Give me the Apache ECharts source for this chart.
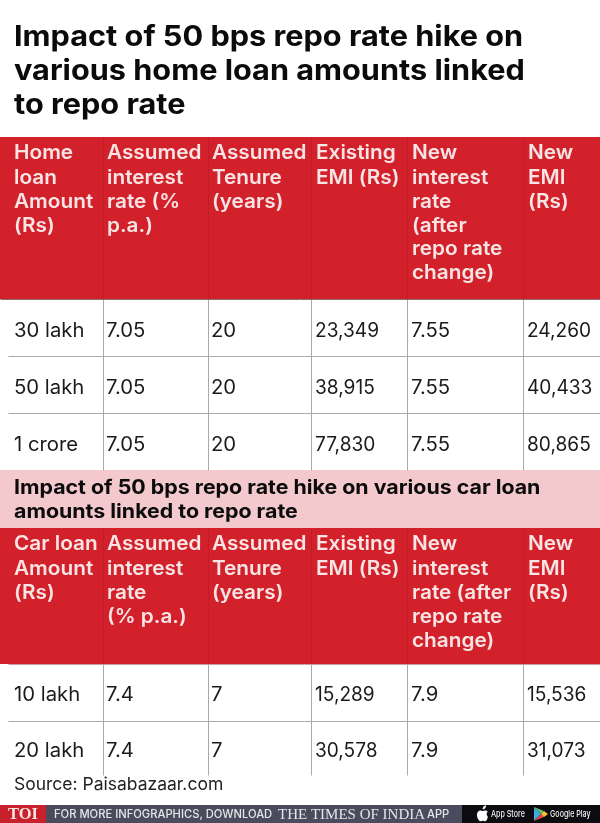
<!DOCTYPE html>
<html><head><meta charset="utf-8">
<style>html,body{margin:0;padding:0;background:#fff}#c{width:600px;height:823px}</style>
<script src="https://cdn.jsdelivr.net/npm/echarts@6/dist/echarts.min.js"></script>
</head><body><div id="c"></div>
<script>
// ---- content ----
const titleLines = ['Impact of 50 bps repo rate hike on', 'various home loan amounts linked', 'to repo rate'];
const homeHeaders = [
  ['Home', 'loan', 'Amount', '(Rs)'],
  ['Assumed', 'interest', 'rate (%', 'p.a.)'],
  ['Assumed', 'Tenure', '(years)'],
  ['Existing', 'EMI (Rs)'],
  ['New', 'interest', 'rate', '(after', 'repo rate', 'change)'],
  ['New', 'EMI', '(Rs)']
];
const homeAmounts = ['30 lakh', '50 lakh', '1 crore'];
const homeRates = ['7.05', '7.05', '7.05'];
const homeTenures = ['20', '20', '20'];
const homeExistingEmi = ['23,349', '38,915', '77,830'];
const homeNewRates = ['7.55', '7.55', '7.55'];
const homeNewEmi = ['24,260', '40,433', '80,865'];

const carTitleLines = ['Impact of 50 bps repo rate hike on various car loan', 'amounts linked to repo rate'];
const carHeaders = [
  ['Car loan', 'Amount', '(Rs)'],
  ['Assumed', 'interest', 'rate', '(% p.a.)'],
  ['Assumed', 'Tenure', '(years)'],
  ['Existing', 'EMI (Rs)'],
  ['New', 'interest', 'rate (after', 'repo rate', 'change)'],
  ['New', 'EMI', '(Rs)']
];
const carAmounts = ['10 lakh', '20 lakh'];
const carRates = ['7.4', '7.4'];
const carTenures = ['7', '7'];
const carExistingEmi = ['15,289', '30,578'];
const carNewRates = ['7.9', '7.9'];
const carNewEmi = ['15,536', '31,073'];
const sourceText = 'Source: Paisabazaar.com';
const footerText = ['TOI', 'FOR MORE INFOGRAPHICS, DOWNLOAD', 'THE TIMES OF INDIA', 'APP', 'App Store', 'Google Play'];

// ---- layout ----
const FONT = 'Inter, "Open Sans", sans-serif';
const SERIF = '"Liberation Serif", serif';
const RED = '#d2212b', PINK = '#f3c9cd', LINE = '#a9a9a9', INK = '#1a1a1a';
const colText = [14, 107, 212, 316, 412, 528];
const colRule = [103, 208, 311, 407, 523];

const texts = [], rects = [], rules = [];
function T(s, x, y, size, weight, fill, scale, family, align) { texts.push({ s, x, y, size, weight, fill, scale: scale || 1, family: family || FONT, align: align || 'left' }); }
function R(x0, y0, x1, y1, fill) { rects.push({ x0, y0, x1, y1, fill }); }
function L(x0, y0, x1, y1, stroke) { rules.push({ x0, y0, x1, y1, stroke: stroke || LINE }); }

R(0, 137, 600, 299, RED);
R(0, 470, 600, 528, PINK);
R(0, 528, 600, 664, RED);
R(0, 805, 46, 823, '#c8202c');
R(46, 805, 462, 823, '#4a4b5c');
R(462, 805, 600, 823, '#0c0c10');

titleLines.forEach((s, i) => T(s, 14, 38 + i * 34, 28.2, 700, '#0b0b0b', 1.088));
carTitleLines.forEach((s, i) => T(s, 14, 488.5 + i * 24, 19.6, 700, '#0b0b0b', 1.09));

const HEAD = '#f8e4e4';
const headerY = [153.5, 178, 202, 226, 249.5, 273.5];
homeHeaders.forEach((col, c) => col.forEach((s, i) => T(s, colText[c], headerY[i], 19.6, 600, HEAD, 1.06)));
const carHeaderY = [544.5, 569, 593, 617, 641];
carHeaders.forEach((col, c) => col.forEach((s, i) => T(s, colText[c], carHeaderY[i], 19.6, 600, HEAD, 1.06)));

const cellX = c => c === 0 ? colText[0] : colText[c] - 1;
const cellScale = s => s.indexOf(',') >= 0 ? 0.98 : 1.04;
const homeCols = [homeAmounts, homeRates, homeTenures, homeExistingEmi, homeNewRates, homeNewEmi];
const homeRowY = [331.5, 388.5, 445.5];
homeCols.forEach((col, c) => col.forEach((s, r) => T(s, cellX(c), homeRowY[r], 19.5, 400, INK, cellScale(s))));
const carCols = [carAmounts, carRates, carTenures, carExistingEmi, carNewRates, carNewEmi];
const carRowY = [695.5, 751.5];
carCols.forEach((col, c) => col.forEach((s, r) => T(s, cellX(c), carRowY[r], 19.5, 400, INK, cellScale(s))));
T(sourceText, 14, 785, 17.5, 400, '#222');

T(footerText[0], 23, 815, 16.5, 700, '#f3e6dc', 1, SERIF, 'center');
T(footerText[1], 54, 815, 11.2, 500, '#e6e6ea');
T(footerText[2], 278, 815, 15, 400, '#e6e6ea', 1, SERIF);
T(footerText[3], 427, 815, 11.2, 500, '#e6e6ea');
T(footerText[4], 491, 814.5, 9.4, 500, '#f0f0f0', 0.76);
T(footerText[5], 550, 814.5, 9.4, 500, '#f0f0f0', 0.76);

const HFAINT = 'rgba(120,20,25,.2)';
colRule.forEach(x => { L(x, 137, x, 299, HFAINT); L(x, 299, x, 470); L(x, 528, x, 664, HFAINT); L(x, 664, x, 775); });
[356, 413].forEach(y => L(8, y, 600, y));
L(8, 721, 600, 721);
L(0, 299, 600, 299, '#8f6a6c'); L(8, 664, 600, 664, '#c9a0a2');

const icons = [
  { type: 'path', d: 'M421 808.2c.9-.9 1.2-1.8 1.1-2.9-1 .1-2 .6-2.6 1.4-.6.7-1 1.7-.8 2.6 1 .1 1.8-.4 2.3-1.1zM423.8 816.5c-.8-.6-1.2-1.4-1.2-2.4 0-.9.4-1.7 1.2-2.3-.6-.9-1.6-1.3-2.6-1.3-1 0-1.7.6-2.4.6-.8 0-1.5-.6-2.4-.6-1.9 0-3.4 1.7-3.4 4.4 0 2.8 1.9 6.3 3.7 6.3.8 0 1.3-.5 2.2-.5.9 0 1.3.5 2.2.5 1.5 0 2.5-2.1 2.7-4.7z', fill: '#fff', dx: 64 },
  { type: 'poly', pts: [[534, 807], [534, 821], [541, 814]], fill: '#3fa9e0' },
  { type: 'poly', pts: [[534, 807], [541, 814], [544, 811]], fill: '#5cc26a' },
  { type: 'poly', pts: [[534, 821], [541, 814], [544, 817]], fill: '#e8463f' },
  { type: 'poly', pts: [[544, 811], [541, 814], [544, 817], [548, 814]], fill: '#f6c232' }
];

// ---- chart ----
function renderRect(p, api) {
  const d = rects[p.dataIndex], a = api.coord([d.x0, d.y0]), b = api.coord([d.x1, d.y1]);
  return { type: 'rect', shape: { x: a[0], y: a[1], width: b[0] - a[0], height: b[1] - a[1] }, style: { fill: d.fill } };
}
function renderRule(p, api) {
  const d = rules[p.dataIndex], a = api.coord([d.x0, d.y0]), b = api.coord([d.x1, d.y1]);
  return { type: 'line', shape: { x1: a[0] + .5, y1: a[1] + .5, x2: b[0] + .5, y2: b[1] + .5 }, style: { stroke: d.stroke, lineWidth: 1 } };
}
function renderText(p, api) {
  const d = texts[p.dataIndex], a = api.coord([d.x, d.y]);
  return { type: 'text', x: a[0], y: a[1], scaleX: d.scale, style: { text: d.s, x: 0, y: 0, fill: d.fill, align: d.align, verticalAlign: 'middle', font: `${d.weight} ${d.size}px ${d.family}` } };
}
function renderIcon(p, api) {
  const d = icons[p.dataIndex];
  if (d.type === 'path') return { type: 'path', x: d.dx, shape: { pathData: d.d }, style: { fill: d.fill } };
  return { type: 'polygon', shape: { points: d.pts.map(q => api.coord(q)) }, style: { fill: d.fill } };
}
const idx = a => a.map((_, i) => [i]);
const base = { type: 'custom', silent: true, clip: false, animation: false, encode: { x: -1, y: -1 } };
const chart = echarts.init(document.getElementById('c'), null, { renderer: 'canvas' });
chart.setOption({
  animation: false, backgroundColor: '#fff', tooltip: { show: false },
  grid: { left: 0, top: 0, width: 600, height: 823 },
  xAxis: { type: 'value', min: 0, max: 600, show: false },
  yAxis: { type: 'value', min: 0, max: 823, inverse: true, show: false },
  series: [
    { ...base, name: 'bands', z: 1, renderItem: renderRect, data: idx(rects) },
    { ...base, name: 'rules', z: 2, renderItem: renderRule, data: idx(rules) },
    { ...base, name: 'icons', z: 3, renderItem: renderIcon, data: idx(icons) },
    { ...base, name: 'cells', z: 4, renderItem: renderText, data: idx(texts) }
  ]
});
</script></body></html>
